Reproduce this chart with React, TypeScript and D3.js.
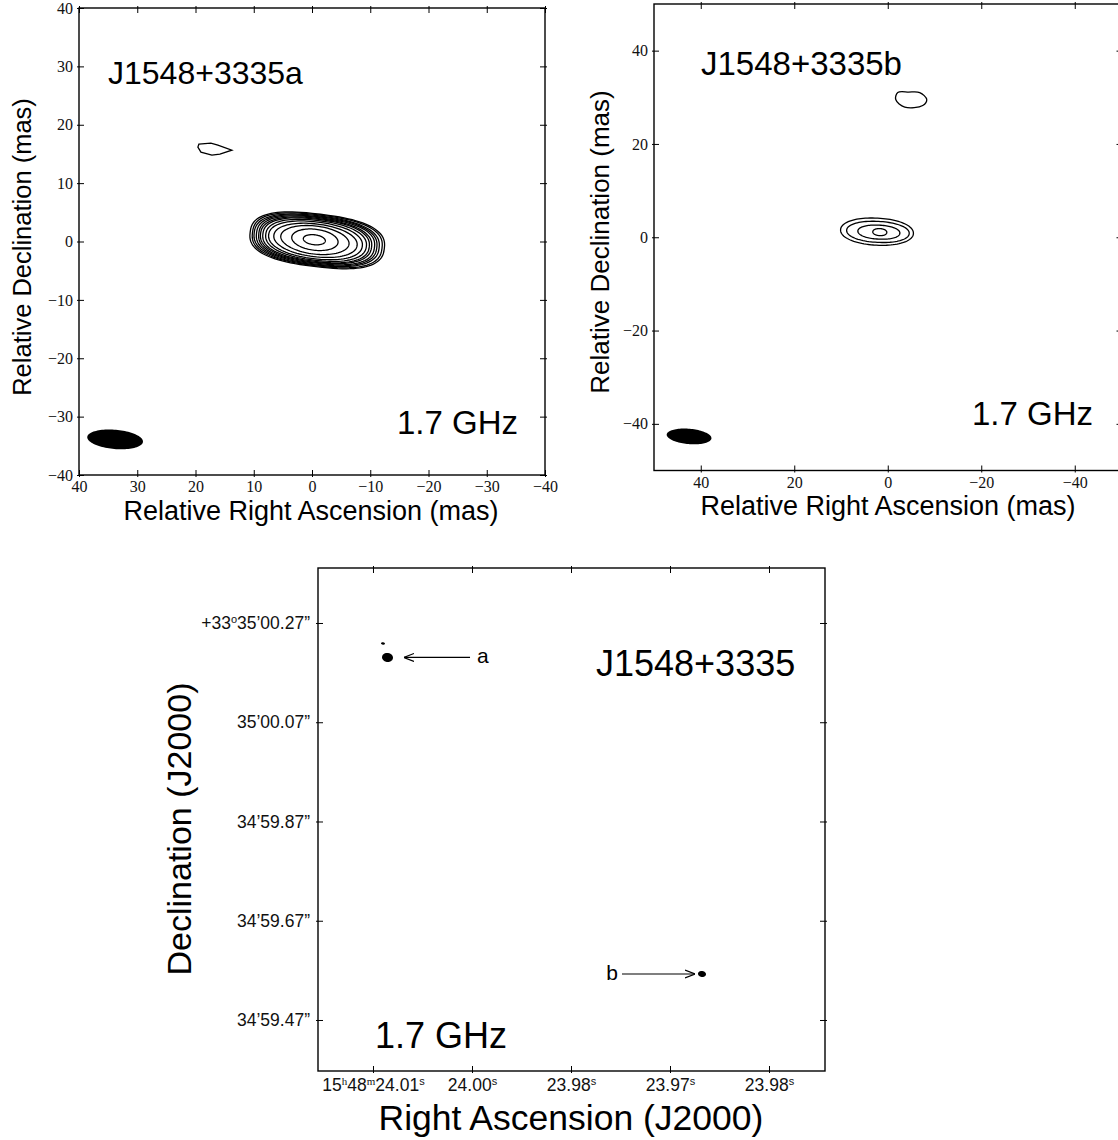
import React, { useEffect, useRef } from "react";
import * as d3 from "d3";

// ---- panel a (top left), offsets in mas ----
const ticksA = [40, 30, 20, 10, 0, -10, -20, -30, -40];
// contours, outer -> inner
const contourAMajor = [11.6, 11.2, 10.8, 10.4, 10.0, 9.6, 9.2, 8.7, 8.1, 7.2, 5.9, 4.0, 1.9];
const contourAMinor = [4.5, 4.35, 4.2, 4.05, 3.9, 3.75, 3.6, 3.4, 3.15, 2.8, 2.4, 1.8, 0.85];
const contourARa = [-0.9, -0.9, -0.8, -0.8, -0.8, -0.7, -0.7, -0.7, -0.6, -0.6, -0.5, -0.5, -0.4];
const contourADec = [0.2, 0.2, 0.2, 0.2, 0.2, 0.2, 0.2, 0.2, 0.2, 0.2, 0.25, 0.3, 0.3];
const contourAPow = [2.6, 2.6, 2.5, 2.5, 2.5, 2.4, 2.4, 2.3, 2.2, 2.1, 2, 2, 2];
// faint knot NE of the core
const knotARa = [19.42, 17.36, 16.16, 13.76, 15.81, 17.19, 19.07, 19.59];
const knotADec = [16.67, 16.84, 16.5, 15.64, 14.96, 14.79, 15.3, 16.16];
const beamA = { ra: 33.8, dec: -33.9, major: 4.8, minor: 1.65, tilt: 5 };

// ---- panel b (top right) ----
const ticksB = [40, 20, 0, -20, -40];
const contourBMajor = [7.8, 6.7, 4.5, 1.5];
const contourBMinor = [2.9, 2.25, 1.5, 0.75];
const contourBRa = [2.3, 2.1, 1.9, 1.7];
const contourBDec = [1.2, 1.15, 1.1, 1.1];
const knotBRa = [-2.14, -4.49, -6.84, -8.34, -7.49, -3.64, -1.71];
const knotBDec = [31.02, 31.12, 31.02, 29.52, 28.24, 27.91, 29.52];
const beamB = { ra: 42.5, dec: -42.7, major: 4.8, minor: 1.65, tilt: 5 };

// ---- panel c (bottom), offsets in arcsec ----
const ticksCx = [0.8, 0.6, 0.4, 0.2, 0.0];
const ticksCy = [0.8, 0.6, 0.4, 0.2, 0.0];
const raTickLabels = ["15^h48^m24.01^s", "24.00^s", "23.98^s", "23.97^s", "23.98^s"];
const decTickLabels = ["+33^o35’00.27”", "35’00.07”", "34’59.87”", "34’59.67”", "34’59.47”"];
const compRa = [0.7707, 0.7798, 0.1354];
const compDec = [0.7305, 0.7587, 0.0927];
const compMajor = [0.0111, 0.004, 0.0081];
const compMinor = [0.0091, 0.0024, 0.006];
const arrowNames = ["a", "b"];
const arrowFrom = [0.604, 0.297];
const arrowTo = [0.7374, 0.1495];
const arrowDec = [0.7305, 0.0927];

const SANS = "'Liberation Sans', Arial, Helvetica, sans-serif";
const SERIF = "'Liberation Serif', 'Times New Roman', serif";

function blobPath(x, y, ra, dec, a, b, tiltDeg, p = 2, n = 96) {
  const t = (tiltDeg * Math.PI) / 180;
  const pts = d3.range(n).map((i) => {
    const th = (i / n) * 2 * Math.PI;
    const c = Math.cos(th), s = Math.sin(th);
    const u = a * Math.sign(c) * Math.pow(Math.abs(c), 2 / p);
    const v = b * Math.sign(s) * Math.pow(Math.abs(s), 2 / p);
    return [x(ra + u * Math.cos(t) - v * Math.sin(t)), y(dec + u * Math.sin(t) + v * Math.cos(t))];
  });
  return d3.line().curve(d3.curveLinearClosed)(pts);
}

// box with ticks on all four sides, labels on bottom and left
function drawFrame(g, x, y, xTicks, yTicks, fontFamily, fontSize, xPad, yPad) {
  const [x0, x1] = x.range();
  const [y0, y1] = y.range();
  g.append("rect")
    .attr("x", x0).attr("y", y1)
    .attr("width", x1 - x0).attr("height", y0 - y1)
    .attr("fill", "none").attr("stroke", "#000").attr("stroke-width", 1.4);

  const style = (ax) => {
    ax.select(".domain").remove();
    ax.attr("font-family", fontFamily).attr("font-size", fontSize);
    ax.selectAll("line").attr("stroke", "#000").attr("stroke-width", 1);
    ax.selectAll("text").attr("fill", "#111");
  };

  const bottom = g.append("g").attr("class", "ax-bottom").attr("transform", `translate(0,${y0})`)
    .call(d3.axisBottom(x).tickValues(xTicks).tickSizeInner(-5).tickSizeOuter(0).tickPadding(xPad))
    .call(style);
  bottom.selectAll(".tick line").attr("y1", 2);
  const top = g.append("g").attr("transform", `translate(0,${y1})`)
    .call(d3.axisTop(x).tickValues(xTicks).tickSizeInner(-5).tickSizeOuter(0))
    .call(style);
  top.selectAll(".tick line").attr("y1", -2);
  top.selectAll("text").remove();
  const left = g.append("g").attr("class", "ax-left").attr("transform", `translate(${x0},0)`)
    .call(d3.axisLeft(y).tickValues(yTicks).tickSizeInner(-5).tickSizeOuter(0).tickPadding(yPad))
    .call(style);
  left.selectAll(".tick line").attr("x1", -2);
  const right = g.append("g").attr("transform", `translate(${x1},0)`)
    .call(d3.axisRight(y).tickValues(yTicks).tickSizeInner(-5).tickSizeOuter(0))
    .call(style);
  right.selectAll(".tick line").attr("x1", 2);
  right.selectAll("text").remove();
}

function label(g, x, y, text, size, anchor = "start", rotate = false) {
  g.append("text")
    .attr("transform", rotate ? `translate(${x},${y}) rotate(-90)` : `translate(${x},${y})`)
    .attr("text-anchor", anchor)
    .attr("font-family", SANS)
    .attr("font-size", size)
    .attr("fill", "#000")
    .text(text);
}

// splits "15^h48^m..." into normal / superscript pieces
function writeSup(textSel, str, supFamilyFor) {
  textSel.text(null);
  const parts = str.split(/\^(.)/);
  let raised = false;
  parts.forEach((p, i) => {
    if (!p) return;
    if (i % 2 === 1) {
      textSel.append("tspan").attr("dy", raised ? null : -6).attr("font-size", 11)
        .attr("font-family", supFamilyFor(p)).text(p);
      raised = true;
    } else {
      textSel.append("tspan").attr("dy", raised ? 6 : null).text(p);
      raised = false;
    }
  });
}

export default function App() {
  const ref = useRef(null);

  useEffect(() => {
    const svg = d3.select(ref.current);
    svg.selectAll("*").remove();

    // ===== panel a =====
    const gA = svg.append("g");
    const xA = d3.scaleLinear().domain([40, -40]).range([79, 545]);
    const yA = d3.scaleLinear().domain([-40, 40]).range([475, 8]);
    drawFrame(gA, xA, yA, ticksA, ticksA, SERIF, 16, 6, 6);
    gA.selectAll("path.contA").data(contourAMajor).enter().append("path")
      .attr("class", "contA")
      .attr("d", (d, i) => blobPath(xA, yA, contourARa[i], contourADec[i], d, contourAMinor[i], 7, contourAPow[i]))
      .attr("fill", "none").attr("stroke", "#000").attr("stroke-width", 1.3);
    gA.append("path")
      .attr("d", d3.line().curve(d3.curveLinearClosed)(knotARa.map((r, i) => [xA(r), yA(knotADec[i])])))
      .attr("fill", "none").attr("stroke", "#000").attr("stroke-width", 1.3);
    gA.append("path")
      .attr("d", blobPath(xA, yA, beamA.ra, beamA.dec, beamA.major, beamA.minor, beamA.tilt))
      .attr("fill", "#000");
    label(gA, 108, 84, "J1548+3335a", 32);
    label(gA, 397, 434, "1.7 GHz", 33);
    label(gA, 311, 520, "Relative Right Ascension (mas)", 27, "middle");
    label(gA, 31, 247, "Relative Declination (mas)", 25.5, "middle", true);

    // ===== panel b =====
    const gB = svg.append("g");
    const xB = d3.scaleLinear().domain([50, -50]).range([654, 1121.5]);
    const yB = d3.scaleLinear().domain([-50, 50]).range([470.5, 4]);
    drawFrame(gB, xB, yB, ticksB, ticksB, SERIF, 16, 6, 6);
    gB.selectAll("path.contB").data(contourBMajor).enter().append("path")
      .attr("class", "contB")
      .attr("d", (d, i) => blobPath(xB, yB, contourBRa[i], contourBDec[i], d, contourBMinor[i], 3, 2.1))
      .attr("fill", "none").attr("stroke", "#000").attr("stroke-width", 1.3);
    gB.append("path")
      .attr("d", d3.line().curve(d3.curveCatmullRomClosed)(knotBRa.map((r, i) => [xB(r), yB(knotBDec[i])])))
      .attr("fill", "none").attr("stroke", "#000").attr("stroke-width", 1.3);
    gB.append("path")
      .attr("d", blobPath(xB, yB, beamB.ra, beamB.dec, beamB.major, beamB.minor, beamB.tilt))
      .attr("fill", "#000");
    label(gB, 701, 75, "J1548+3335b", 33);
    label(gB, 972, 425, "1.7 GHz", 33);
    label(gB, 888, 515, "Relative Right Ascension (mas)", 27, "middle");
    label(gB, 609, 242, "Relative Declination (mas)", 26, "middle", true);

    // ===== panel c =====
    const gC = svg.append("g");
    const xC = d3.scaleLinear().domain([0.9111, -0.1131]).range([318, 825]);
    const yC = d3.scaleLinear().domain([-0.1028, 0.9108]).range([1071, 568]);
    drawFrame(gC, xC, yC, ticksCx, ticksCy, SANS, 17.5, 8, 8);
    // RA / Dec labels with superscripts
    gC.select(".ax-bottom").selectAll(".tick text").each(function (_d, ti) {
      writeSup(d3.select(this), raTickLabels[ti], (c) => (c === "s" ? SANS : SERIF));
    });
    gC.select(".ax-left").selectAll(".tick text").each(function (_d, ti) {
      writeSup(d3.select(this), decTickLabels[ti], () => SANS);
    });
    gC.selectAll("path.comp").data(compMajor).enter().append("path")
      .attr("class", "comp")
      .attr("d", (d, i) => blobPath(xC, yC, compRa[i], compDec[i], d, compMinor[i], 8))
      .attr("fill", "#000");
    const defs = svg.append("defs");
    defs.append("marker").attr("id", "arr").attr("viewBox", "0 0 10 10")
      .attr("refX", 10).attr("refY", 5).attr("markerWidth", 10).attr("markerHeight", 10)
      .attr("markerUnits", "userSpaceOnUse").attr("orient", "auto")
      .append("path").attr("d", "M0,1 L10,5 L0,9").attr("fill", "none").attr("stroke", "#000").attr("stroke-width", 1.2);
    gC.selectAll("line.arrow").data(arrowNames).enter().append("line")
      .attr("class", "arrow")
      .attr("x1", (d, i) => xC(arrowFrom[i])).attr("x2", (d, i) => xC(arrowTo[i]))
      .attr("y1", (d, i) => yC(arrowDec[i])).attr("y2", (d, i) => yC(arrowDec[i]))
      .attr("stroke", "#000").attr("stroke-width", 1.2).attr("marker-end", "url(#arr)");
    gC.selectAll("text.arrowlab").data(arrowNames).enter().append("text")
      .attr("class", "arrowlab")
      .attr("x", (d, i) => xC(arrowFrom[i]) + (arrowTo[i] > arrowFrom[i] ? 7 : -4))
      .attr("y", (d, i) => yC(arrowDec[i]) + 6)
      .attr("text-anchor", (d, i) => (arrowTo[i] > arrowFrom[i] ? "start" : "end"))
      .attr("font-family", SANS).attr("font-size", 21)
      .text((d) => d);
    label(gC, 596, 676, "J1548+3335", 36);
    label(gC, 375, 1048, "1.7 GHz", 36);
    label(gC, 571, 1130, "Right Ascension (J2000)", 35.5, "middle");
    label(gC, 191, 829, "Declination (J2000)", 34, "middle", true);
  }, []);

  return (
    <svg
      ref={ref}
      width={1118}
      height={1140}
      style={{ position: "absolute", left: 0, top: 0, background: "#fff" }}
    />
  );
}
